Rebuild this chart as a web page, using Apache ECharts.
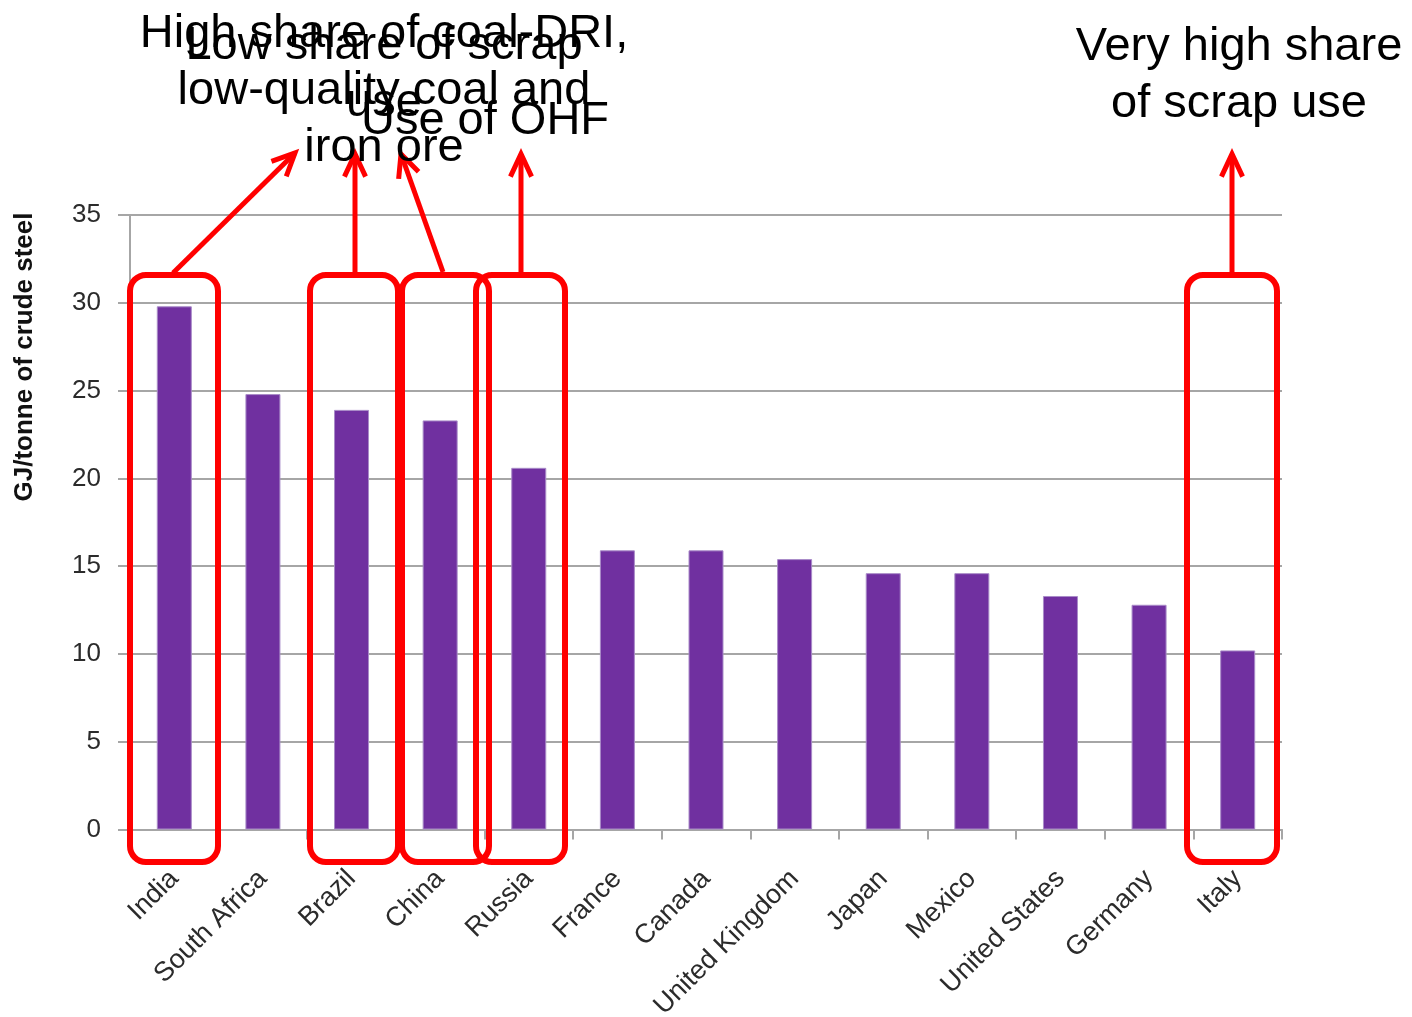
<!DOCTYPE html>
<html>
<head>
<meta charset="utf-8">
<script src="https://cdn.jsdelivr.net/npm/echarts@6/dist/echarts.min.js"></script>
<style>
  html, body { margin: 0; padding: 0; background: #ffffff; }
  #chart { width: 1412px; height: 1017px; }
</style>
</head>
<body>
<div id="chart"></div>
<script>
// Energy intensity of crude steel production by country
const countries = ['India', 'South Africa', 'Brazil', 'China', 'Russia', 'France', 'Canada',
  'United Kingdom', 'Japan', 'Mexico', 'United States', 'Germany', 'Italy'];
const energyIntensity = [29.8, 24.8, 23.9, 23.3, 20.6, 15.9, 15.9, 15.4, 14.6, 14.6, 13.3, 12.8, 10.2];
const yMin = 0;
const yMax = 35;
const yStep = 5;
const yTitle = 'GJ/tonne of crude steel';

// Callout texts
const calloutCoalDri = 'High share of coal-DRI,\nlow-quality coal and\niron ore';
const calloutLowScrap = 'Low share of scrap\nuse';
const calloutOhf = 'Use of OHF';
const calloutHighScrap = 'Very high share\nof scrap use';

const RED = '#ff0000';
const GRID = '#a6a6a6';
const SANS = '"Liberation Sans", Arial, sans-serif';

// Highlight frames around selected bars
function frame(x0, x1, y0, y1) {
  return {
    type: 'rect', silent: true, z: 50,
    shape: { x: x0, y: y0, width: x1 - x0, height: y1 - y0, r: 16 },
    style: { fill: 'none', stroke: RED, lineWidth: 6 }
  };
}

// Arrow: straight shaft plus an open chevron head at the tip
function arrow(fromX, fromY, tipX, tipY) {
  const ang = Math.atan2(tipY - fromY, tipX - fromX);
  const len = 25, spread = 25 * Math.PI / 180;
  const a1 = [tipX - len * Math.cos(ang - spread), tipY - len * Math.sin(ang - spread)];
  const a2 = [tipX - len * Math.cos(ang + spread), tipY - len * Math.sin(ang + spread)];
  return [
    { type: 'polyline', silent: true, z: 50,
      shape: { points: [[fromX, fromY], [tipX, tipY]] },
      style: { stroke: RED, lineWidth: 5, fill: null } },
    { type: 'polyline', silent: true, z: 50,
      shape: { points: [a1, [tipX, tipY], a2] },
      style: { stroke: RED, lineWidth: 5, fill: null, lineJoin: 'miter' } }
  ];
}

function note(text, cx, cy) {
  return {
    type: 'text', silent: true, z: 60, x: cx, y: cy,
    style: {
      text: text, fill: '#000000', font: '47px ' + SANS,
      lineHeight: 57, align: 'center', verticalAlign: 'middle'
    }
  };
}

const graphics = [
  frame(130, 218, 275, 862),
  frame(310, 398, 275, 862),
  frame(402, 489, 275, 862),
  frame(476, 565, 275, 862),
  frame(1187, 1277, 275, 862),
  ...arrow(173, 273, 295, 153),
  ...arrow(355, 273, 355, 154),
  ...arrow(443, 272, 401, 154),
  ...arrow(521, 273, 521, 154),
  ...arrow(1232, 273, 1232, 154),
  note(calloutCoalDri, 384, 91),
  note(calloutLowScrap, 384, 75),
  note(calloutOhf, 485, 121),
  note(calloutHighScrap, 1239, 76),
  {
    type: 'text', silent: true, x: 25, y: 357, rotation: Math.PI / 2,
    style: {
      text: yTitle, fill: '#111111', font: 'bold 26px ' + SANS,
      align: 'center', verticalAlign: 'middle'
    }
  }
];

const chart = echarts.init(document.getElementById('chart'), null, { renderer: 'canvas' });
chart.setOption({
  animation: false,
  backgroundColor: '#ffffff',
  grid: {
    left: 130, right: 130, top: 215, bottom: 187.5,
    containLabel: false, outerBoundsMode: 'none'
  },
  xAxis: {
    type: 'category',
    data: countries,
    boundaryGap: true,
    axisLine: { show: true, lineStyle: { color: GRID, width: 2 } },
    axisTick: { show: true, length: 10, interval: 0, lineStyle: { color: GRID, width: 2 } },
    axisLabel: {
      interval: 0, rotate: 45, margin: 45,
      color: '#2b2b2b', fontFamily: SANS, fontSize: 27
    },
    splitLine: { show: false }
  },
  yAxis: {
    type: 'value',
    min: yMin, max: yMax, interval: yStep,
    axisLine: { show: true, lineStyle: { color: GRID, width: 2 } },
    axisTick: { show: true, length: 12, lineStyle: { color: GRID, width: 2 } },
    axisLabel: { margin: 29, color: '#2b2b2b', fontFamily: SANS, fontSize: 26 },
    splitLine: { show: true, lineStyle: { color: GRID, width: 2 } }
  },
  series: [{
    type: 'bar',
    data: energyIntensity,
    barWidth: 35,
    itemStyle: { color: '#7030a0', borderColor: '#a98bc8', borderWidth: 1 }
  }],
  graphic: graphics
});
</script>
</body>
</html>
